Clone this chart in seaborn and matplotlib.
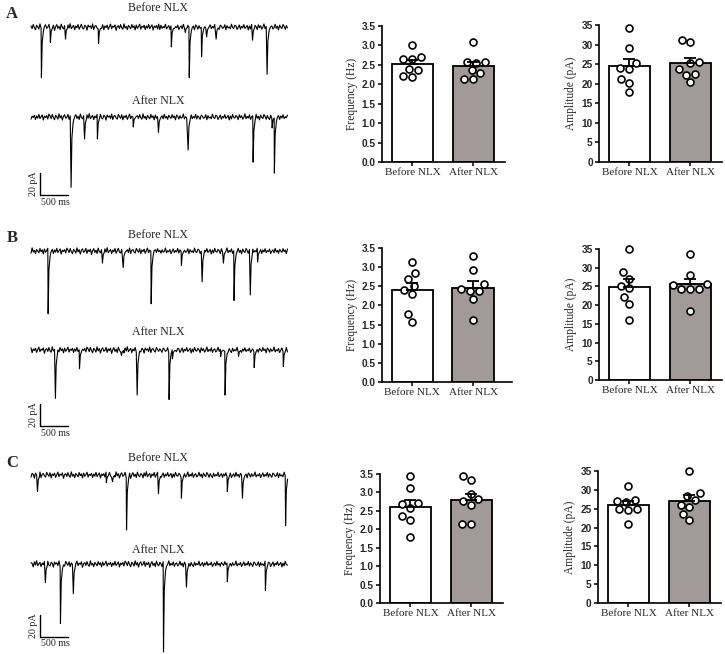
import numpy as np
import pandas as pd
import matplotlib
matplotlib.use("Agg")
import matplotlib.pyplot as plt
import seaborn as sns

# ---------------- data ----------------
groups = ["Before NLX", "After NLX"]

freq_A_before = [3.00, 2.69, 2.65, 2.66, 2.39, 2.36, 2.21, 2.19]
freq_A_after = [3.10, 2.58, 2.57, 2.55, 2.36, 2.28, 2.13, 2.14]
amp_A_before = [34.2, 29.1, 25.2, 23.9, 23.7, 21.1, 20.2, 17.8]
amp_A_after = [31.2, 30.7, 25.5, 25.4, 23.7, 22.6, 22.3, 20.4]

freq_B_before = [3.13, 2.84, 2.68, 2.51, 2.40, 2.29, 1.77, 1.58]
freq_B_after = [3.28, 2.92, 2.56, 2.43, 2.37, 2.37, 2.16, 1.62]
amp_B_before = [35.1, 28.75, 27.1, 25.1, 24.55, 22.1, 20.3, 16.1]
amp_B_after = [33.7, 28.0, 25.7, 25.4, 24.3, 24.3, 24.3, 18.5]

freq_C_before = [3.44, 3.13, 2.70, 2.68, 2.57, 2.37, 2.26, 1.79]
freq_C_after = [3.44, 3.35, 2.96, 2.77, 2.81, 2.66, 2.13, 2.13]
amp_C_before = [31.1, 27.3, 26.8, 27.0, 24.6, 24.8, 25.0, 20.9]
amp_C_after = [35.0, 29.2, 28.5, 27.3, 25.5, 26.0, 23.7, 22.1]

freq_ticks = [0.0, 0.5, 1.0, 1.5, 2.0, 2.5, 3.0, 3.5]
amp_ticks = [0, 5, 10, 15, 20, 25, 30, 35]

# Trace events: times (s) and amplitudes (pA, inward = downward)
evt_A_before_t = [0.18, 0.34, 0.61, 1.20, 2.50, 2.75, 2.82, 3.04, 3.13, 3.30, 3.95, 4.21]
evt_A_before_a = [46, 14, 11, 15, 18, 5, 46, 27, 9, 11, 12, 43]
evt_A_after_t = [0.71, 0.95, 1.18, 1.82, 2.27, 2.80, 3.96, 4.30, 4.34]
evt_A_after_a = [64, 20, 20, 9, 14, 30, 41, 10, 51]
evt_B_before_t = [0.30, 1.27, 1.64, 2.14, 2.68, 3.05, 3.43, 3.62, 3.91, 4.04]
evt_B_before_a = [57, 11, 15, 48, 13, 28, 11, 45, 40, 10]
evt_B_after_t = [0.43, 0.86, 1.61, 1.89, 2.46, 2.52, 3.38, 3.46, 3.70, 3.98, 4.50]
evt_B_after_a = [44, 17, 5, 41, 45, 8, 6, 41, 6, 16, 15]
evt_C_before_t = [0.11, 1.34, 1.45, 1.70, 2.27, 2.68, 3.50, 3.77, 4.54]
evt_C_before_a = [15, 7, 6, 50, 17, 21, 15, 21, 46]
evt_C_after_t = [0.25, 0.52, 0.75, 2.36, 2.77, 3.50, 4.18]
evt_C_after_a = [17, 54, 27, 80, 21, 16, 24]

# hand-typed baseline noise (pA)
baseline_noise = [0.8, -1.2, 1.9, -0.4, -2.1, 1.3, 0.2, -1.6, 2.4, -0.7, 1.1, -2.3, 0.5, 1.7, -1.0,
                  -0.2, 2.0, -1.8, 0.9, -0.5, 1.4, -2.6, 0.3, 1.8, -1.1, 0.6, -1.9, 2.2, -0.3, -1.4,
                  1.0, 0.4, -2.2, 1.6, -0.8, 2.5, -1.3, 0.1, 1.2, -2.0, 0.7, -0.6, 1.9, -1.7, 0.2,
                  2.1, -0.9, -1.5, 1.3, 0.5, -2.4, 1.5, -0.1, 0.9, -1.2, 2.3, -1.9, 0.6, 1.1, -0.7,
                  -1.6, 2.0, 0.3, -1.0, 1.7, -2.1, 0.8, -0.4, 1.4, -1.8, 0.1, 2.2, -1.3, 0.7, -0.2,
                  1.6, -2.5, 0.4, 1.0, -1.1, 1.8, -0.6, -1.7, 2.4, -0.8, 0.5, -2.0, 1.2, 0.0, -1.4,
                  1.9, -0.5, 0.9, -2.2, 1.5, -1.0, 0.3, 2.1, -1.6, 0.6, -0.3, 1.3, -1.9, 0.8, -0.9,
                  2.0, -1.2, 0.2, 1.6, -2.3, 0.7, -0.4, 1.1, -1.5, 2.2]
noise_dt = 0.02

# ---------------- style ----------------
sns.set_style("ticks")
plt.rcParams["font.family"] = ["Liberation Serif", "DejaVu Serif"]
plt.rcParams["axes.linewidth"] = 1.0

W, H = 725, 654
fig = plt.figure(figsize=(W / 100, H / 100), dpi=100)


def px_axes(x0, y0, x1, y1):
    return fig.add_axes([x0 / W, 1 - y1 / H, (x1 - x0) / W, (y1 - y0) / H])


def build_trace(shift, ev_t, ev_a):
    base = np.roll(np.array(baseline_noise, float), shift)
    y = np.concatenate([base, base[::-1] * -0.9]) * 1.2
    t = np.arange(len(y)) * noise_dt
    keep = np.ones(len(t), bool)
    for et in ev_t:
        keep &= ~((t > et) & (t < et + 0.05))
    tt = list(t[keep])
    yy = list(y[keep])
    for et, ea in zip(ev_t, ev_a):
        tt += [et + 0.006, et + 0.02, et + 0.042]
        yy += [-ea, -0.3 * ea, -0.08 * ea]
    order = np.argsort(tt)
    return np.array(tt)[order], np.array(yy)[order]


PX_PER_S = 56.0
PX_PER_PA = 1.1
T0_PX = 31


def trace_row(row_top, row_bot, base1, base2, title1_y, title2_y, corner_y,
              ev1, ev2, shifts):
    ax = px_axes(20, row_top, 300, row_bot)
    ax.set_xlim((20 - T0_PX) / PX_PER_S, (300 - T0_PX) / PX_PER_S)
    ax.set_ylim((base1 - row_bot) / PX_PER_PA, (base1 - row_top) / PX_PER_PA)
    ax.axis("off")
    off2 = (base1 - base2) / PX_PER_PA
    t1, y1 = build_trace(shifts[0], *ev1)
    t2, y2 = build_trace(shifts[1], *ev2)
    sns.lineplot(x=t1, y=y1, ax=ax, color="black", lw=0.8, estimator=None, sort=False)
    sns.lineplot(x=t2, y=y2 + off2, ax=ax, color="black", lw=0.8, estimator=None, sort=False)
    xc = (158 - T0_PX) / PX_PER_S
    ax.text(xc, (base1 - title1_y) / PX_PER_PA, "Before NLX", ha="center", va="center", fontsize=8.6)
    ax.text(xc, (base1 - title2_y) / PX_PER_PA, "After NLX", ha="center", va="center", fontsize=8.6)
    # scale bar
    sx = (40 - T0_PX) / PX_PER_S
    sy = (base1 - corner_y) / PX_PER_PA
    ax.plot([sx, sx, sx + 0.5], [sy + 20, sy, sy], color="black", lw=1.0, clip_on=False)
    ax.text(sx - 7 / PX_PER_S, sy + 10, "20 pA", rotation=90, ha="center", va="center", fontsize=7.2)
    ax.text(sx + 0.25 + 1 / PX_PER_S, sy - 7 / PX_PER_PA, "500 ms", ha="center", va="center", fontsize=7.2)


trace_row(0, 215, 27, 117, 8, 101, 195,
          (evt_A_before_t, evt_A_before_a), (evt_A_after_t, evt_A_after_a), (0, 17))
trace_row(215, 440, 251, 350, 235, 332, 426,
          (evt_B_before_t, evt_B_before_a), (evt_B_after_t, evt_B_after_a), (33, 51))
trace_row(440, 654, 475, 564, 458, 550, 637,
          (evt_C_before_t, evt_C_before_a), (evt_C_after_t, evt_C_after_a), (68, 85))


def bar_panel(rect, before, after, ylabel, ymax, ticks, fmt, xright=1.52):
    ax = px_axes(*rect)
    df = pd.DataFrame({"group": [groups[0]] * len(before) + [groups[1]] * len(after),
                       "value": list(before) + list(after)})
    sns.barplot(data=df, x="group", y="value", hue="group", order=groups, hue_order=groups,
                palette=["white", "#a39797"], edgecolor="black", linewidth=1.3,
                errorbar=None, width=0.68, legend=False, ax=ax, zorder=2)
    stats = df.groupby("group")["value"].agg(["mean", "sem"]).reindex(groups)
    n_before = len(ax.collections)
    sns.swarmplot(data=df, x="group", y="value", order=groups, color="white",
                  edgecolor="black", linewidth=1.2, size=5.0, ax=ax, zorder=4)
    for coll in ax.collections[n_before:]:
        coll.set_clip_on(False)
    ax.errorbar([0, 1], stats["mean"].values,
                yerr=[np.zeros(2), stats["sem"].values], fmt="none", ecolor="black",
                elinewidth=1.3, capsize=4, capthick=1.3, zorder=5)
    ax.set_xlim(-0.5, xright)
    ax.set_ylim(0, ymax)
    ax.set_yticks(ticks)
    ax.set_yticklabels([fmt.format(v) for v in ticks], fontfamily="Liberation Sans",
                       fontweight="bold", fontsize=7.3)
    ax.set_xticks([0, 1])
    ax.set_xticklabels(groups, fontsize=8)
    ax.set_xlabel("")
    ax.set_ylabel(ylabel, fontsize=8.3, labelpad=3)
    ax.tick_params(axis="both", direction="out", length=3, width=1.1, pad=1.5, color="black")
    sns.despine(ax=ax)
    for s in ("left", "bottom"):
        ax.spines[s].set_linewidth(1.2)
        ax.spines[s].set_color("black")
    return ax


bar_panel((382, 26, 505, 162), freq_A_before, freq_A_after, "Frequency (Hz)", 3.5, freq_ticks, "{:.1f}")
bar_panel((599, 25, 722, 162), amp_A_before, amp_A_after, "Amplitude (pA)", 35, amp_ticks, "{:d}")
bar_panel((382, 248, 512, 382), freq_B_before, freq_B_after, "Frequency (Hz)", 3.5, freq_ticks, "{:.1f}", 1.64)
bar_panel((599, 249, 722, 380), amp_B_before, amp_B_after, "Amplitude (pA)", 35, amp_ticks, "{:d}")
bar_panel((380, 474, 503, 603), freq_C_before, freq_C_after, "Frequency (Hz)", 3.5, freq_ticks, "{:.1f}")
bar_panel((598, 471, 721, 603), amp_C_before, amp_C_after, "Amplitude (pA)", 35, amp_ticks, "{:d}")

for lab, y in (("A", 14), ("B", 238), ("C", 463)):
    fig.text(12 / W, 1 - y / H, lab, ha="center", va="center", fontsize=12, fontweight="bold")

fig.savefig("out.png", dpi=100, facecolor="white")
